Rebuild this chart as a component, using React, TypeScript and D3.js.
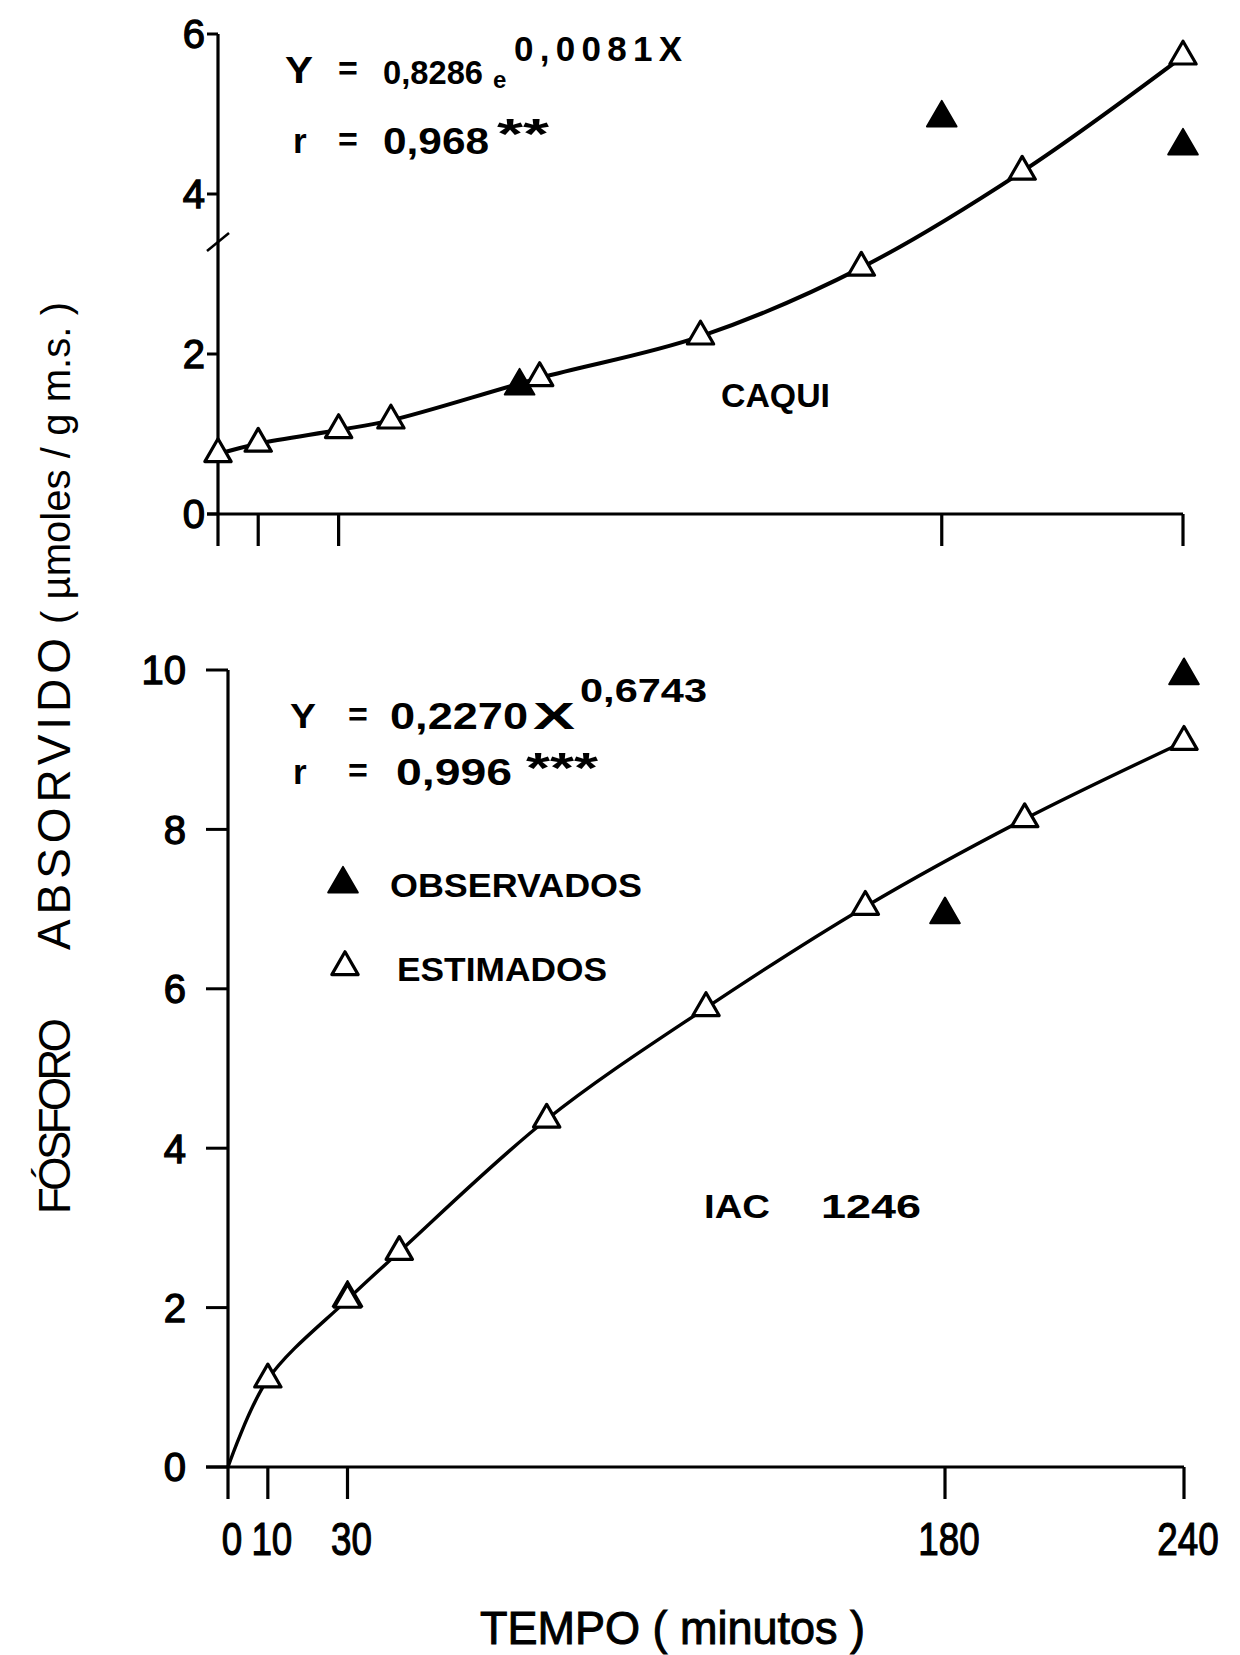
import React from "react";
import * as d3 from "d3";

// Sampling times (minutes) and phosphorus uptake (µmoles / g m.s.)
const timeTicks = [0, 10, 30, 180, 240];

const caquiTimes = [0, 10, 30, 43, 80, 120, 160, 200, 240];
const caquiEstimated = [0.75, 0.88, 1.05, 1.17, 1.7, 2.22, 3.08, 4.28, 5.72];
const caquiObsTimes = [75, 180, 240];
const caquiObserved = [1.6, 4.95, 4.6];
const caquiYTicks = [0, 2, 4, 6];

const iacTimes = [0, 10, 30, 43, 80, 120, 160, 200, 240];
const iacEstimated = [0, 1.1, 2.1, 2.7, 4.36, 5.76, 7.03, 8.13, 9.1];
const iacObsTimes = [30, 180, 240];
const iacObserved = [2.12, 6.93, 9.93];
const iacYTicks = [0, 2, 4, 6, 8, 10];

const W = 1240;
const H = 1655;
const FONT = "'Liberation Sans', Arial, sans-serif";

const openTri = d3.symbol(d3.symbolTriangle, 300)() as string;
const filledTri = d3.symbol(d3.symbolTriangle, 380)() as string;

type PanelProps = {
  x: d3.ScaleLinear<number, number>;
  y: d3.ScaleLinear<number, number>;
  yTicks: number[];
  times: number[];
  estimated: number[];
  obsTimes: number[];
  observed: number[];
  tickLen: number;
  labelGap: number;
  lineWidth: number;
  markOrigin: boolean;
  breakAt?: number;
};

function Panel(p: PanelProps) {
  const { x, y } = p;
  const x0 = x(0);
  const y0 = y(0);
  const yTop = y(p.yTicks[p.yTicks.length - 1]);
  const line = d3
    .line<number>()
    .x((_, i) => x(p.times[i]))
    .y((d) => y(d))
    .curve(d3.curveCatmullRom.alpha(0.5));
  return (
    <g>
      {/* y axis, continuing below the x axis as the 0-minute tick */}
      <line x1={x0} x2={x0} y1={yTop} y2={y0 + 32} stroke="#000" strokeWidth={3.2} />
      {p.yTicks.map((t) => (
        <g key={"yt" + t}>
          <line x1={x0 - p.tickLen} x2={x0} y1={y(t)} y2={y(t)} stroke="#000" strokeWidth={3} />
          <text
            x={x0 - p.tickLen - p.labelGap}
            y={y(t)}
            dy="0.36em"
            textAnchor="end"
            fontFamily={FONT}
            fontSize={40}
            stroke="#000"
            strokeWidth={1.3}
          >
            {t}
          </text>
        </g>
      ))}
      {p.breakAt !== undefined && (
        <line
          x1={x0 - 11}
          x2={x0 + 11}
          y1={y(p.breakAt) + 9}
          y2={y(p.breakAt) - 9}
          stroke="#000"
          strokeWidth={2.5}
        />
      )}
      {/* x axis */}
      <line x1={x0 - p.tickLen} x2={x(240)} y1={y0} y2={y0} stroke="#000" strokeWidth={3.2} />
      {timeTicks
        .filter((t) => t > 0)
        .map((t) => (
          <line key={"xt" + t} x1={x(t)} x2={x(t)} y1={y0} y2={y0 + 32} stroke="#000" strokeWidth={3.2} />
        ))}
      {/* fitted curve through the estimated values */}
      <path d={line(p.estimated) as string} fill="none" stroke="#000" strokeWidth={p.lineWidth} />
      {p.obsTimes.map((t, i) => (
        <path
          key={"o" + t}
          d={filledTri}
          transform={`translate(${x(t)},${y(p.observed[i])})`}
          fill="#000"
          stroke="#000"
          strokeWidth={2}
          strokeLinejoin="round"
        />
      ))}
      {p.times.map((t, i) =>
        !p.markOrigin && t === 0 ? null : (
          <path
            key={"e" + t}
            d={openTri}
            transform={`translate(${x(t)},${y(p.estimated[i])})`}
            fill="#fff"
            stroke="#000"
            strokeWidth={3.2}
            strokeLinejoin="round"
          />
        )
      )}
    </g>
  );
}

function Txt(props: {
  x: number;
  y: number;
  size: number;
  len?: number;
  spread?: boolean;
  children: React.ReactNode;
}) {
  return (
    <text
      x={props.x}
      y={props.y}
      fontFamily={FONT}
      fontSize={props.size}
      fontWeight="bold"
      textLength={props.len}
      lengthAdjust={props.len ? (props.spread ? "spacing" : "spacingAndGlyphs") : undefined}
    >
      {props.children}
    </text>
  );
}

export default function App() {
  const xTop = d3.scaleLinear().domain([0, 240]).range([218, 1183]);
  const yTop = d3.scaleLinear().domain([0, 6]).range([514, 34]);
  const xBot = d3.scaleLinear().domain([0, 240]).range([228, 1184]);
  const yBot = d3.scaleLinear().domain([0, 10]).range([1467, 670]);

  return (
    <svg
      width={W}
      height={H}
      viewBox={`0 0 ${W} ${H}`}
      style={{ position: "absolute", left: 0, top: 0, background: "#fff" }}
    >
      <rect width={W} height={H} fill="#fff" />

      {/* CAQUI */}
      <Panel
        x={xTop}
        y={yTop}
        yTicks={caquiYTicks}
        times={caquiTimes}
        estimated={caquiEstimated}
        obsTimes={caquiObsTimes}
        observed={caquiObserved}
        tickLen={11}
        labelGap={2}
        lineWidth={4}
        markOrigin={true}
        breakAt={3.4}
      />
      <Txt x={285} y={83} size={36} len={28}>Y</Txt>
      <Txt x={338} y={80} size={34}>=</Txt>
      <Txt x={383} y={84} size={33} len={100}>0,8286</Txt>
      <Txt x={493} y={88} size={24}>e</Txt>
      <Txt x={514} y={61} size={35} len={168} spread>0,0081X</Txt>
      <Txt x={293} y={153} size={35}>r</Txt>
      <Txt x={338} y={151} size={34}>=</Txt>
      <Txt x={383} y={154} size={37} len={106}>0,968</Txt>
      <Txt x={497} y={148} size={42} len={52}>**</Txt>
      <Txt x={721} y={407} size={33} len={109}>CAQUI</Txt>

      {/* IAC 1246 */}
      <Panel
        x={xBot}
        y={yBot}
        yTicks={iacYTicks}
        times={iacTimes}
        estimated={iacEstimated}
        obsTimes={iacObsTimes}
        observed={iacObserved}
        tickLen={22}
        labelGap={20}
        lineWidth={3.4}
        markOrigin={false}
      />
      <Txt x={290} y={728} size={35} len={26}>Y</Txt>
      <Txt x={348} y={726} size={34}>=</Txt>
      <Txt x={390} y={729} size={37} len={138}>0,2270</Txt>
      <Txt x={533} y={729} size={36} len={42}>X</Txt>
      <Txt x={580} y={702} size={33} len={127}>0,6743</Txt>
      <Txt x={293} y={784} size={35}>r</Txt>
      <Txt x={348} y={782} size={34}>=</Txt>
      <Txt x={396} y={785} size={37} len={116}>0,996</Txt>
      <Txt x={526} y={782} size={42} len={72}>***</Txt>

      {/* legend */}
      <path d={filledTri} transform="translate(343,884)" fill="#000" stroke="#000" strokeWidth={2} strokeLinejoin="round" />
      <Txt x={390} y={897} size={33} len={252}>OBSERVADOS</Txt>
      <path d={openTri} transform="translate(345,967)" fill="#fff" stroke="#000" strokeWidth={3.2} strokeLinejoin="round" />
      <Txt x={397} y={981} size={33} len={210}>ESTIMADOS</Txt>

      <Txt x={704} y={1218} size={33} len={66}>IAC</Txt>
      <Txt x={821} y={1218} size={33} len={100}>1246</Txt>

      {/* time axis labels */}
      {timeTicks.map((t) => (
        <text
          key={"xl" + t}
          transform={`translate(${xBot(t) + 4},1555) scale(0.8,1)`}
          textAnchor="middle"
          fontFamily={FONT}
          fontSize={46}
          stroke="#000"
          strokeWidth={1.2}
        >
          {t}
        </text>
      ))}
      <text
        x={480}
        y={1644}
        fontFamily={FONT}
        fontSize={46}
        textLength={385}
        lengthAdjust="spacingAndGlyphs"
        stroke="#000"
        strokeWidth={1}
        style={{ whiteSpace: "pre" }}
      >
        TEMPO ( minutos )
      </text>

      {/* vertical axis title, read bottom to top */}
      <text transform="translate(70,1214) rotate(-90)" fontFamily={FONT} fontSize={44}>
        <tspan x={0} textLength={196} lengthAdjust="spacing">FÓSFORO</tspan>
        <tspan x={264} fontSize={46} textLength={312} lengthAdjust="spacing">ABSORVIDO</tspan>
        <tspan x={590} fontSize={40} textLength={322} lengthAdjust="spacing" style={{ whiteSpace: "pre" }}>
          {"( µmoles / g m.s. )"}
        </tspan>
      </text>
    </svg>
  );
}
